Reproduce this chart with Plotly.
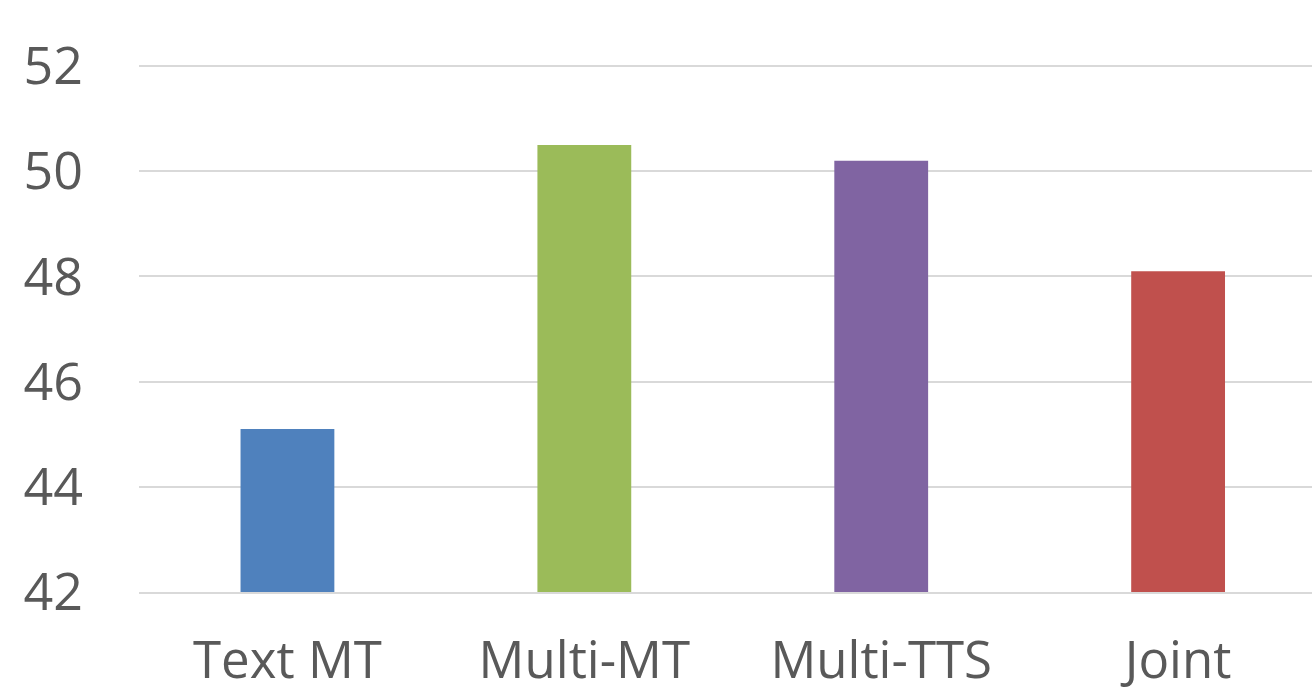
import plotly.graph_objects as go

categories = ["Text MT", "Multi-MT", "Multi-TTS", "Joint"]
values = [45.1, 50.5, 50.2, 48.1]
colors = ["#4F81BD", "#9BBB59", "#8064A2", "#C0504D"]
y_ticks = [42, 44, 46, 48, 50, 52]

fig = go.Figure(go.Bar(x=categories, y=values, marker_color=colors,
                       marker_line_width=0, width=0.316))

fig.update_layout(
    width=1312, height=695,
    margin=dict(l=139, r=0, t=63, b=103),
    paper_bgcolor="white", plot_bgcolor="white",
    font=dict(family="Open Sans", size=52, color="#595959"),
    showlegend=False,
)
fig.update_xaxes(range=[-0.5, 3.451], showgrid=False, showline=True,
                 linecolor="#D9D9D9", linewidth=2, ticks="", automargin=False,
                 ticklabelstandoff=23, tickfont=dict(size=51))
fig.update_yaxes(range=[42, 52.057], tickvals=y_ticks, showgrid=True,
                 gridcolor="#D9D9D9", gridwidth=2, zeroline=False, automargin=False,
                 ticks="", ticklabelstandoff=55, tickfont=dict(size=52))

fig.write_html("out.html")
